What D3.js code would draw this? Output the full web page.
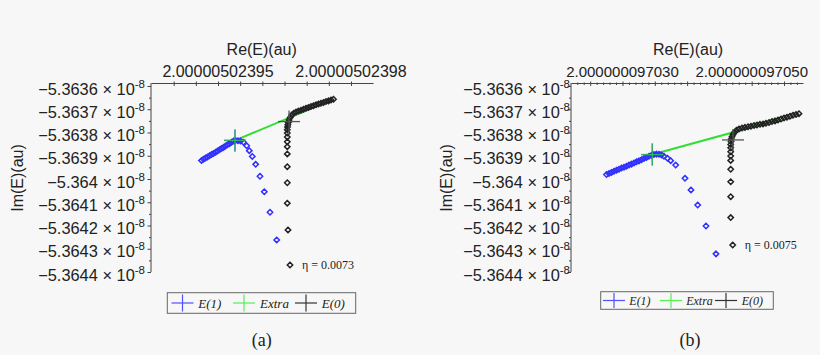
<!DOCTYPE html>
<html>
<head>
<meta charset="utf-8">
<script src="https://cdn.jsdelivr.net/npm/d3@7"></script>
<style>
  body { margin: 0; background: #f7f7f7; }
  svg { display: block; }
</style>
</head>
<body>
<svg width="820" height="355"></svg>
<script>
// Re(E) is stored as an offset above the panel base, in units of 1e-12
// Im(E) is stored in units of 1e-8
var reBaseA = 2.0000050239, reBaseB = 2.00000009703;
var reLabelTicksA = [50, 80], reLabelTicksB = [0, 20];
var imTicks = [-5.3636, -5.3637, -5.3638, -5.3639, -5.364, -5.3641, -5.3642, -5.3643, -5.3644];
var legendLabels = ["E(1)", "Extra", "E(0)"];
var panelLabels = ["(a)", "(b)"];
var etaLabels = ["\u03b7 = 0.0073", "\u03b7 = 0.0075"];

// panel (a)
var e1A = [[46.28,-5.363920],[46.73,-5.363915],[47.18,-5.363910],[47.63,-5.363905],[48.08,-5.363900],
  [48.53,-5.363895],[48.98,-5.363890],[49.44,-5.363885],[49.89,-5.363880],[50.34,-5.363874],
  [50.79,-5.363869],[51.24,-5.363864],[51.69,-5.363858],[52.14,-5.363853],[52.59,-5.363848],
  [53.05,-5.363842],[53.50,-5.363837],[53.95,-5.363834],[54.51,-5.363835],[55.08,-5.363837],
  [55.75,-5.363842],[56.47,-5.363857],[57.06,-5.363878],[57.74,-5.363903],[58.50,-5.363937],
  [59.47,-5.363988],[60.44,-5.364055],[61.73,-5.364143],[63.24,-5.364262]];
var e0A = [[76.05,-5.363657],[75.49,-5.363660],[74.93,-5.363664],[74.36,-5.363667],[73.80,-5.363671],
  [73.23,-5.363674],[72.67,-5.363677],[72.11,-5.363681],[71.54,-5.363685],[70.98,-5.363688],
  [70.41,-5.363692],[69.85,-5.363696],[69.29,-5.363700],[68.72,-5.363704],[68.16,-5.363708],
  [67.60,-5.363712],[67.10,-5.363717],[66.65,-5.363725],[66.29,-5.363735],[66.02,-5.363746],
  [65.86,-5.363757],[65.75,-5.363767],[65.68,-5.363776],[65.63,-5.363788],[65.63,-5.363802],
  [65.63,-5.363819],[65.63,-5.363840],[65.63,-5.363861],[65.63,-5.363892],[65.63,-5.363947],
  [65.63,-5.364016],[65.63,-5.364104],[65.79,-5.364219],[66.24,-5.364370]];
var extraA = [[53.83,-5.363834],[75.72,-5.363660]];
var crossesA = [[53.83,-5.363834],[53.83,-5.363834],[66.02,-5.363753]];

// panel (b)
var e1B = [[-2.477,-5.363981],[-2.090,-5.363976],[-1.703,-5.363972],[-1.316,-5.363967],[-0.929,-5.363962],
  [-0.542,-5.363958],[-0.155,-5.363953],[0.232,-5.363949],[0.619,-5.363945],[1.006,-5.363940],
  [1.393,-5.363936],[1.780,-5.363931],[2.167,-5.363926],[2.554,-5.363922],[2.941,-5.363917],
  [3.328,-5.363912],[3.715,-5.363907],[4.102,-5.363902],[4.489,-5.363898],[4.876,-5.363895],
  [5.263,-5.363893],[5.650,-5.363894],[6.037,-5.363897],[6.424,-5.363902],[6.966,-5.363911],
  [7.461,-5.363921],[8.235,-5.363940],[9.675,-5.363997],[10.604,-5.364047],[11.641,-5.364112],
  [12.926,-5.364202],[14.474,-5.364322]];
var e0B = [[27.32,-5.363719],[26.86,-5.363723],[26.39,-5.363726],[25.93,-5.363730],[25.46,-5.363734],
  [25.00,-5.363738],[24.54,-5.363742],[24.07,-5.363746],[23.61,-5.363750],[23.14,-5.363753],
  [22.68,-5.363757],[22.21,-5.363760],[21.75,-5.363763],[21.29,-5.363765],[20.82,-5.363768],
  [20.36,-5.363770],[19.89,-5.363773],[19.43,-5.363775],[18.96,-5.363778],[18.50,-5.363781],
  [18.03,-5.363785],[17.65,-5.363790],[17.34,-5.363799],[17.11,-5.363809],[16.95,-5.363818],
  [16.84,-5.363828],[16.80,-5.363839],[16.75,-5.363852],[16.75,-5.363866],[16.75,-5.363883],
  [16.75,-5.363901],[16.75,-5.363920],[16.75,-5.363958],[16.75,-5.364012],[16.75,-5.364076],
  [16.75,-5.364166],[17.06,-5.364284]];
var extraB = [[4.613,-5.363895],[24.38,-5.363744]];
var crossesB = [[4.613,-5.363895],[4.613,-5.363895],[17.105,-5.363832]];

var colors = ["#3030ff", "#33dd33", "#222"];
var legendColors = ["#5050ff", "#55ee55", "#333"];
var sans = "'Liberation Sans', Arial, sans-serif";
var serif = "'Liberation Serif', 'Times New Roman', serif";

var svg = d3.select("svg");

var panels = [
  { left: 151, right: 373, dom: [34.886, 84.965], base: reBaseA, digits: 11, labelTicks: reLabelTicksA,
    minor: d3.range(40, 81, 5), major: 5, xfs: 16, ylabEnd: 145, ytitleX: 17.5, xtitleX: 261.7,
    e1: e1A, e0: e0A, extra: extraA, crosses: crossesA, eta: etaLabels[0], label: panelLabels[0], labelX: 261.7,
    legend: { x: 167.3, y: 292.7, w: 188.4, h: 20.6, cx: [182.5, 244, 306], tx: [198.3, 260, 321.7], ty: 303.3, fs: 13, hh: 8.5 } },
  { left: 571, right: 803, dom: [-7.972, 27.941], base: reBaseB, digits: 12, labelTicks: reLabelTicksB,
    minor: d3.range(-7, 28, 1), major: 5, xfs: 15, ylabEnd: 570, ytitleX: 446.5, xtitleX: 688,
    e1: e1B, e0: e0B, extra: extraB, crosses: crossesB, eta: etaLabels[1], label: panelLabels[1], labelX: 690,
    legend: { x: 600.7, y: 291.7, w: 172.6, h: 17.6, cx: [614, 671, 726], tx: [629.3, 686.2, 741.7], ty: 300.7, fs: 12, hh: 7.5 } }
];

var plotTop = 83, plotBottom = 272;
var y = d3.scaleLinear().domain([-5.3644, -5.3636]).range([272, 86]);
var diamond = "M0,-2.7L2.7,0L0,2.7L-2.7,0Z";

panels.forEach(function (p) {
  var x = d3.scaleLinear().domain(p.dom).range([p.left, p.right]);
  var g = svg.append("g");

  // top axis
  var xAxis = g.append("g")
      .attr("transform", "translate(0," + plotTop + ")")
      .call(d3.axisTop(x).tickValues(p.minor).tickSize(0).tickSizeOuter(0).tickFormat(""));
  xAxis.select(".domain").attr("stroke", "#444");
  xAxis.selectAll(".tick line")
      .attr("stroke", "#444")
      .attr("y1", function (d) { return Math.round(d) % p.major === 0 ? -1.5 : -0.5; })
      .attr("y2", function (d) { return Math.round(d) % p.major === 0 ? 3 : 2; });

  g.selectAll(".xlab")
    .data(p.labelTicks)
    .enter().append("text")
      .attr("x", function (d) { return x(d); })
      .attr("y", 71.7)
      .attr("dy", "0.35em")
      .attr("text-anchor", "middle")
      .style("font-family", sans)
      .style("font-size", p.xfs + "px")
      .style("fill", "#222")
      .text(function (d) { return (p.base + d * 1e-12).toFixed(p.digits); });

  g.append("text")
      .attr("x", p.xtitleX).attr("y", 49.3).attr("dy", "0.35em")
      .attr("text-anchor", "middle")
      .style("font-family", sans).style("font-size", "16px").style("fill", "#222")
      .text("Re(E)(au)");

  // left axis
  g.append("line")
      .attr("x1", p.left).attr("x2", p.left).attr("y1", plotTop).attr("y2", plotBottom)
      .attr("stroke", "#444");
  var minorY = d3.range(0, 8).map(function (i) { return -5.36365 - i * 0.0001; });
  var yAxis = g.append("g")
      .attr("transform", "translate(" + p.left + ",0)")
      .call(d3.axisLeft(y).tickValues(imTicks.concat(minorY)).tickSize(3).tickFormat(""));
  yAxis.select(".domain").remove();
  yAxis.selectAll(".tick line").attr("stroke", "#444")
      .attr("x2", function (d) { return imTicks.indexOf(d) >= 0 ? -3.5 : -2; });

  var ylab = g.selectAll(".ylab")
    .data(imTicks)
    .enter().append("text")
      .attr("x", p.ylabEnd)
      .attr("y", function (d) { return y(d) + 3; })
      .attr("dy", "0.35em")
      .attr("text-anchor", "end")
      .style("font-family", sans)
      .style("font-size", "16.4px")
      .style("fill", "#222");
  ylab.append("tspan").text(function (d) { return "\u2212" + String(Math.abs(d)) + " \u00d7 10"; });
  ylab.append("tspan").attr("dy", -7).style("font-size", "11.5px").text("-8");

  g.append("text")
      .attr("transform", "translate(" + p.ytitleX + ",178) rotate(-90)")
      .attr("dy", "0.35em")
      .attr("text-anchor", "middle")
      .style("font-family", sans).style("font-size", "16px").style("fill", "#222")
      .text("Im(E)(au)");

  // extrapolation line
  g.append("path")
      .datum(p.extra)
      .attr("fill", "none")
      .attr("stroke", colors[1])
      .attr("stroke-width", 2)
      .attr("d", d3.line().x(function (d) { return x(d[0]); }).y(function (d) { return y(d[1]); }));

  // E(1) and E(0) points
  [p.e1, p.e0].forEach(function (series, k) {
    g.selectAll(null)
      .data(series)
      .enter().append("path")
        .attr("d", diamond)
        .attr("transform", function (d) { return "translate(" + x(d[0]) + "," + y(d[1]) + ")"; })
        .attr("fill", "none")
        .attr("stroke", k === 0 ? colors[0] : colors[2])
        .attr("stroke-width", 1.5);
  });

  // crosses
  p.crosses.forEach(function (c, k) {
    var cx = x(c[0]), cy = y(c[1]);
    var col = k === 2 ? "#555" : colors[k];
    var op = k === 1 ? 0.75 : 1;
    g.append("line").attr("x1", cx - 11).attr("x2", cx + 11).attr("y1", cy).attr("y2", cy)
      .attr("stroke", col).attr("stroke-width", 1.3).attr("opacity", op);
    g.append("line").attr("x1", cx).attr("x2", cx).attr("y1", cy - 11).attr("y2", cy + 11)
      .attr("stroke", col).attr("stroke-width", 1.3).attr("opacity", op);
  });

  // eta annotation next to the last E(0) point
  var last = p.e0[p.e0.length - 1];
  g.append("text")
      .attr("x", x(last[0]) + 12).attr("y", y(last[1])).attr("dy", "0.35em")
      .style("font-family", serif).style("font-size", "12px").style("fill", "#222")
      .text(p.eta);

  // legend
  var L = p.legend;
  g.append("rect")
      .attr("x", L.x).attr("y", L.y).attr("width", L.w).attr("height", L.h)
      .attr("fill", "none").attr("stroke", "#666").attr("stroke-width", 1);
  legendLabels.forEach(function (name, k) {
    var cx = L.cx[k], cy = L.y + L.h / 2;
    g.append("line").attr("x1", cx - 11).attr("x2", cx + 11).attr("y1", cy).attr("y2", cy)
      .attr("stroke", legendColors[k]).attr("stroke-width", 1.2);
    g.append("line").attr("x1", cx).attr("x2", cx).attr("y1", cy - L.hh).attr("y2", cy + L.hh)
      .attr("stroke", legendColors[k]).attr("stroke-width", 1.2);
    g.append("text")
        .attr("x", L.tx[k]).attr("y", L.ty).attr("dy", "0.35em")
        .style("font-family", serif).style("font-style", "italic")
        .style("font-size", L.fs + "px").style("fill", "#222")
        .text(name);
  });

  g.append("text")
      .attr("x", p.labelX).attr("y", 339.3).attr("dy", "0.35em")
      .attr("text-anchor", "middle")
      .style("font-family", serif).style("font-size", "18px").style("fill", "#222")
      .text(p.label);
});
</script>
</body>
</html>
